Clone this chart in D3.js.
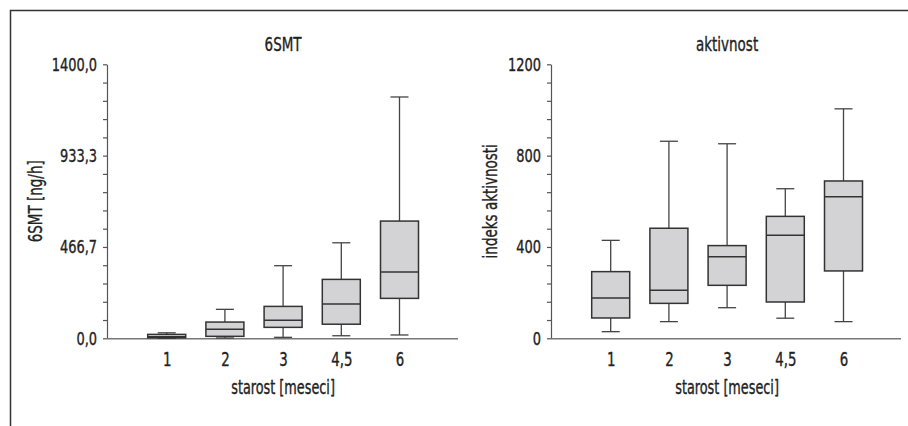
<!DOCTYPE html>
<html>
<head>
<meta charset="utf-8">
<script src="https://cdn.jsdelivr.net/npm/d3@7"></script>
<style>
  body { margin: 0; background: #fff; }
  svg text { font-family: "DejaVu Sans Condensed", "DejaVu Sans", sans-serif; font-stretch: condensed; fill: #222; stroke: #222; stroke-width: 0.35px; }
</style>
</head>
<body>
<div id="chart-container"></div>
<script>
(function() {
'use strict';

const categories = ['1', '2', '3', '4,5', '6'];

// 6SMT [ng/h]
const smtMin = [0, 1.5, 5, 13, 17];
const smtQ1 = [3, 10, 56, 72, 204];
const smtMed = [8, 46, 92, 175, 339];
const smtQ3 = [20, 83, 163, 301, 599];
const smtMax = [28, 148, 371, 488, 1233];
const smtTickLabels = ['0,0', '466,7', '933,3', '1400,0'];

// indeks aktivnosti
const aktMin = [29, 73, 134, 88, 73];
const aktQ1 = [89, 153, 232, 159, 295];
const aktMed = [176, 210, 357, 451, 620];
const aktQ3 = [292, 482, 406, 534, 689];
const aktMax = [429, 863, 852, 655, 1005];
const aktTickLabels = ['0', '400', '800', '1200'];

const chart = '#chart-container';
const W = 908;
const H = 426;
const Y_TOP = 64.3;
const Y_BOTTOM = 338.3;
const BOX_W = 38;
const CAP_W = 18;

const svg = d3.select(chart)
  .append('svg')
    .attr('width', W)
    .attr('height', H);

// frame (top + left edge)
svg.append('path')
  .attr('d', `M10.5,${H} L10.5,10.5 L${W},10.5`)
  .attr('fill', 'none')
  .attr('stroke', '#333')
  .attr('stroke-width', 1.5);

drawPanel({
  title: '6SMT',
  yLabel: '6SMT [ng/h]',
  axisX: 107,
  axisEnd: 458,
  yLabelX: 35,
  yMax: 1400,
  tickLabels: smtTickLabels,
  min: smtMin, q1: smtQ1, med: smtMed, q3: smtQ3, max: smtMax
});

drawPanel({
  title: 'aktivnost',
  yLabel: 'indeks aktivnosti',
  axisX: 551,
  axisEnd: 901,
  yLabelX: 490,
  yMax: 1200,
  tickLabels: aktTickLabels,
  min: aktMin, q1: aktQ1, med: aktMed, q3: aktQ3, max: aktMax
});

// narrow the text horizontally, the original uses a condensed face
function squeeze(sel, sx) {
  sel.each(function() {
    const t = d3.select(this);
    const x = +t.attr('x') || 0;
    t.attr('transform', `scale(${sx},1)`).attr('x', x / sx);
  });
}

function drawPanel(cfg) {
  const xScale = d3.scalePoint()
    .domain(categories)
    .range([cfg.axisX + 1.5, cfg.axisX + 1.5 + 6 * 58.2])
    .padding(1);

  const yScale = d3.scaleLinear()
    .domain([0, cfg.yMax])
    .range([Y_BOTTOM, Y_TOP]);

  const g = svg.append('g');

  // y axis with minor ticks every 1/15 of the range
  const minor = d3.range(0, 16).map((i) => i * cfg.yMax / 15);
  const yAxis = d3.axisLeft(yScale)
    .tickValues(minor)
    .tickSize(4)
    .tickSizeOuter(0)
    .tickFormat((d, i) => (i % 5 === 0 ? cfg.tickLabels[i / 5] : ''));

  const ya = g.append('g')
    .attr('transform', `translate(${cfg.axisX}, 0)`)
    .call(yAxis);
  ya.selectAll('path, line').attr('stroke', '#555').attr('stroke-width', 1.2);
  ya.selectAll('text')
    .attr('x', -10)
    .style('font-size', '18px')
    .attr('fill', '#222')
    .call(squeeze, 0.8);

  // x axis: line only, labels below
  const xAxis = d3.axisBottom(xScale).tickSize(0).tickSizeOuter(0);
  const xa = g.append('g')
    .attr('transform', `translate(0, ${Y_BOTTOM})`)
    .call(xAxis);
  xa.select('.domain')
    .attr('d', `M${cfg.axisX},0.5H${cfg.axisEnd}`)
    .attr('stroke', '#777')
    .attr('stroke-width', 1.5);
  xa.selectAll('text')
    .attr('y', 14)
    .attr('dy', '0.71em')
    .style('font-size', '19px')
    .attr('fill', '#222')
    .call(squeeze, 0.78);

  // titles
  g.append('text')
    .attr('x', xScale(categories[2]))
    .attr('y', 51)
    .attr('text-anchor', 'middle')
    .style('font-size', '20px')
    .text(cfg.title)
    .call(squeeze, 0.75);

  g.append('text')
    .attr('x', xScale(categories[2]))
    .attr('y', 394)
    .attr('text-anchor', 'middle')
    .style('font-size', '19px')
    .text('starost [meseci]')
    .call(squeeze, 0.75);

  g.append('text')
    .attr('transform', `translate(${cfg.yLabelX}, ${(Y_TOP + Y_BOTTOM) / 2}) rotate(-90) scale(0.75,1)`)
    .attr('text-anchor', 'middle')
    .attr('dy', '0.35em')
    .style('font-size', '20px')
    .text(cfg.yLabel);

  // boxes
  const rows = categories.map((c, i) => ({
    cat: c, min: cfg.min[i], q1: cfg.q1[i], med: cfg.med[i], q3: cfg.q3[i], max: cfg.max[i]
  }));

  const box = g.selectAll('.box')
    .data(rows)
    .enter()
    .append('g')
      .attr('class', 'box');

  box.append('line')
    .attr('x1', (d) => xScale(d.cat))
    .attr('x2', (d) => xScale(d.cat))
    .attr('y1', (d) => yScale(d.max))
    .attr('y2', (d) => yScale(d.q3))
    .attr('stroke', '#444')
    .attr('stroke-width', 1.3);

  box.append('line')
    .attr('x1', (d) => xScale(d.cat))
    .attr('x2', (d) => xScale(d.cat))
    .attr('y1', (d) => yScale(d.q1))
    .attr('y2', (d) => yScale(d.min))
    .attr('stroke', '#444')
    .attr('stroke-width', 1.3);

  ['max', 'min'].forEach((k) => {
    box.append('line')
      .attr('x1', (d) => xScale(d.cat) - CAP_W / 2)
      .attr('x2', (d) => xScale(d.cat) + CAP_W / 2)
      .attr('y1', (d) => yScale(d[k]))
      .attr('y2', (d) => yScale(d[k]))
      .attr('stroke', '#444')
      .attr('stroke-width', 1.3);
  });

  box.append('rect')
    .attr('x', (d) => xScale(d.cat) - BOX_W / 2)
    .attr('y', (d) => yScale(d.q3))
    .attr('width', BOX_W)
    .attr('height', (d) => yScale(d.q1) - yScale(d.q3))
    .attr('fill', '#d3d3d5')
    .attr('stroke', '#333')
    .attr('stroke-width', 1.5);

  box.append('line')
    .attr('x1', (d) => xScale(d.cat) - BOX_W / 2)
    .attr('x2', (d) => xScale(d.cat) + BOX_W / 2)
    .attr('y1', (d) => yScale(d.med))
    .attr('y2', (d) => yScale(d.med))
    .attr('stroke', '#333')
    .attr('stroke-width', 1.5);
}

})();
</script>
</body>
</html>
